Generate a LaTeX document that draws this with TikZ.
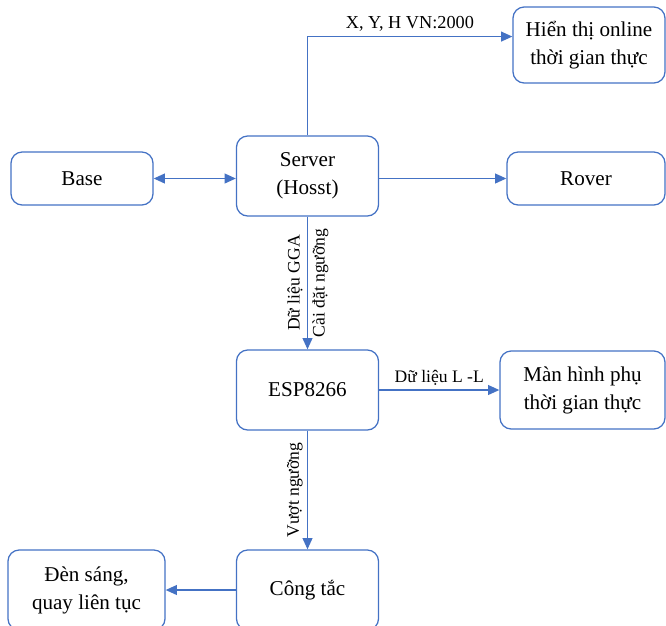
\documentclass[tikz,border=0pt]{standalone}
\usepackage{fontspec}
\setmainfont{Liberation Serif}
\usetikzlibrary{arrows.meta, positioning, calc}
\definecolor{LineBlue}{RGB}{68, 114, 196}

\begin{document}
\begin{tikzpicture}[x=0.025cm, y=-0.025cm,
        box/.style={draw=LineBlue, line width=0.9pt, rectangle, rounded corners=8pt, inner sep=0pt, minimum width=3.55cm, minimum height=2cm, align=center, font=\fontsize{15}{20}\selectfont},
        arrow/.style={-{Triangle[length=8pt, width=7pt]}, draw=LineBlue, line width=1pt},
        lbl/.style={font=\fontsize{13}{15}\selectfont, inner sep=3pt},
        small/.style={font=\fontsize{12.5}{14}\selectfont, inner sep=3pt}]

        \useasboundingbox (0,0) rectangle (666,626);

        % Server
        \node[box] (server) at (307.5,176) {Server\\(Hosst)};

        % Base and Rover
        \node[box, minimum width=3.55cm, minimum height=1.325cm] (base) at (82,178.5) {Base};
        \node[box, minimum width=3.95cm, minimum height=1.325cm] (rover) at (586,178.5) {Rover};

        % Online display
        \node[box, minimum width=3.8cm, minimum height=1.9cm] (online) at (589,45) {Hiển thị online\\thời gian thực};

        % ESP8266
        \node[box] (esp) at (307.5,390) {ESP8266};
        \node[box, minimum width=4.125cm, minimum height=1.95cm] (screen) at (582.5,390) {Màn hình phụ\\thời gian thực};

        % Switch
        \node[box] (switch) at (307.5,590) {Công tắc};
        \node[box, minimum width=3.925cm] (lamp) at (86.5,590) {Đèn sáng,\\quay liên tục};

        % Arrows
        \draw[arrow] (server.north) |- ([yshift=6pt]online.west)
            node[lbl, pos=0.75, above] {X, Y, H VN:2000};
        \draw[arrow, {Triangle[length=8pt, width=7pt]}-{Triangle[length=8pt, width=7pt]}] (base.east) -- (base.east -| server.west);
        \draw[arrow] (rover.west -| server.east) -- (rover.west);
        \draw[arrow] (server) -- (esp)
            node[small, midway, rotate=90, above] {Dữ liệu GGA}
            node[small, midway, rotate=90, below] {Cài đặt ngưỡng};
        \draw[arrow] (esp) -- (screen)
            node[small, midway, above] {Dữ liệu L -L};
        \draw[arrow] (esp) -- (switch)
            node[small, midway, rotate=90, above] {Vượt ngưỡng};
        \draw[arrow] (switch) -- (lamp);

    \end{tikzpicture}
\end{document}
